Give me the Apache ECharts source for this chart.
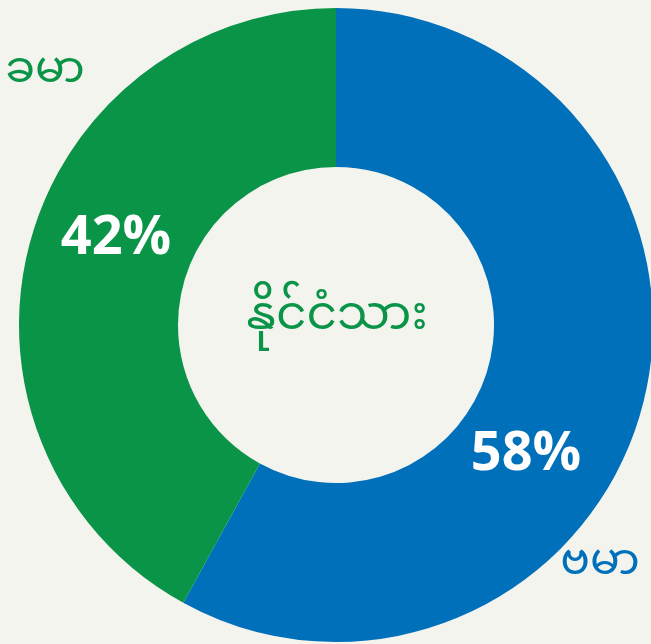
<!DOCTYPE html>
<html>
<head>
<meta charset="utf-8">
<script src="https://cdn.jsdelivr.net/npm/echarts@6/dist/echarts.min.js"></script>
<style>
  html, body { margin: 0; padding: 0; background: #f4f4ef; }
  #chart { width: 651px; height: 644px; }
</style>
</head>
<body>
<div id="chart"></div>
<script>
// Datos del gráfico
const categories = ['ဗမာ', 'ခမာ'];
const shares = [58, 42];
const colors = ['#0070bb', '#0a9447'];
const centerTitle = 'နိုင်ငံသား';

const myFont = '"Noto Sans Myanmar", "Noto Sans", "DejaVu Sans", sans-serif';

const chart = echarts.init(document.getElementById('chart'));

// posiciones de las etiquetas de porcentaje y de nombres
const pctPos = [[526, 455], [116, 239]];
const namePos = [[600, 569], [45, 77]];

chart.setOption({
    backgroundColor: '#f4f4ef',
    animation: false,
    series: [{
        type: 'pie',
        center: [336, 325],
        radius: [158, 317],
        startAngle: 90,
        clockwise: true,
        silent: true,
        label: {
            show: true,
            position: 'inside',
            formatter: '{c}%',
            color: '#ffffff',
            fontFamily: '"Open Sans", Lato, sans-serif',
            fontWeight: 'bold',
            fontSize: 54
        },
        labelLine: { show: false },
        labelLayout: function (params) {
            const p = pctPos[params.dataIndex];
            return { x: p[0], y: p[1], align: 'center', verticalAlign: 'middle' };
        },
        data: categories.map((name, i) => ({
            name: name,
            value: shares[i],
            itemStyle: { color: colors[i] }
        }))
    }],
    graphic: [
        {
            type: 'text',
            x: 337, y: 324,
            style: {
                text: centerTitle,
                fill: colors[1],
                font: '47px ' + myFont,
                align: 'center',
                verticalAlign: 'middle'
            }
        }
    ].concat(categories.map((name, i) => ({
        type: 'text',
        x: namePos[i][0], y: namePos[i][1],
        style: {
            text: name,
            fill: colors[i],
            font: '44px ' + myFont,
            align: 'center',
            verticalAlign: 'middle'
        }
    })))
});
</script>
</body>
</html>
